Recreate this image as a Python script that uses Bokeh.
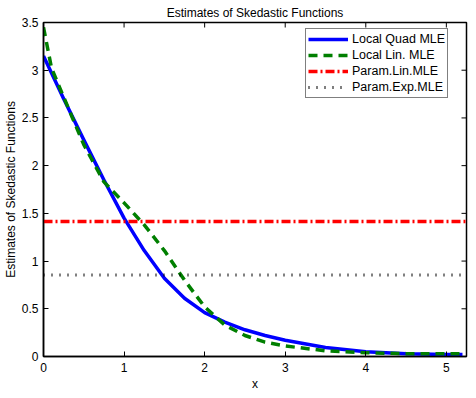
import math
from bokeh.plotting import figure
from bokeh.models import (LinearAxis, FixedTicker, NumeralTickFormatter, Legend,
                          LegendItem, Range1d)
from bokeh.embed import file_html
from bokeh.resources import INLINE

# ---------------- data ----------------
title_text = "Estimates of Skedastic Functions"
x_label = "x"
y_label = "Estimates of Skedastic Functions"

quad_x = [0.0, 0.25, 0.5, 0.75, 1.0, 1.25, 1.5, 1.75, 2.0, 2.25, 2.5, 2.75,
          3.0, 3.5, 4.0, 4.5, 5.0, 5.2]
quad_y = [3.15, 2.70, 2.27, 1.85, 1.45, 1.11, 0.82, 0.61, 0.46, 0.36, 0.28, 0.22,
          0.17, 0.095, 0.05, 0.03, 0.02, 0.02]

lin_x = [0.0, 0.1, 0.25, 0.5, 0.75, 1.0, 1.25, 1.5, 1.75, 2.0, 2.25, 2.5, 2.75,
         3.0, 3.5, 4.0, 4.5, 5.0, 5.2]
lin_y = [3.45, 3.02, 2.72, 2.22, 1.83, 1.61, 1.38, 1.11, 0.80, 0.52, 0.33, 0.22, 0.15,
         0.11, 0.06, 0.04, 0.03, 0.03, 0.03]

param_lin_value = 1.415
param_exp_value = 0.855

x_span = [0.0, 5.25]
y_span = [0.0, 3.5]
x_ticks = [0, 1, 2, 3, 4, 5]
y_ticks = [0, 0.5, 1, 1.5, 2, 2.5, 3, 3.5]

series_names = ["Local Quad MLE", "Local Lin. MLE", "Param.Lin.MLE", "Param.Exp.MLE"]

# ---------------- figure ----------------
FONT = "Liberation Sans"

p = figure(width=476, height=398, output_backend="svg", toolbar_location=None,
           x_range=Range1d(*x_span), y_range=Range1d(*y_span),
           x_axis_type=None, y_axis_type=None,
           min_border_left=43, min_border_right=10, min_border_top=22,
           min_border_bottom=42)
p.background_fill_color = "white"
p.border_fill_color = "white"
p.outline_line_color = "black"
p.outline_line_width = 1.5
p.xgrid.visible = False
p.ygrid.visible = False

p.title.text = title_text
p.title.text_font = FONT
p.title.text_font_size = "12px"
p.title.text_font_style = "normal"
p.title.align = "center"
p.title.text_color = "black"
p.title.standoff = 6


def style_axis(ax, ticks):
    ax.ticker = FixedTicker(ticks=ticks)
    ax.minor_tick_line_color = None
    ax.major_tick_in = 5
    ax.major_tick_out = 0
    ax.major_tick_line_color = "black"
    ax.major_tick_line_width = 1
    ax.axis_line_color = "black"
    ax.axis_line_width = 1.5
    ax.formatter = NumeralTickFormatter(format="0.[0]")
    ax.major_label_text_font = FONT
    ax.major_label_text_font_size = "12px"
    ax.major_label_text_color = "black"
    ax.major_label_standoff = 5
    ax.axis_label_text_font = FONT
    ax.axis_label_text_font_size = "12px"
    ax.axis_label_text_font_style = "normal"
    ax.axis_label_text_color = "black"


xb = LinearAxis(axis_label=x_label)
style_axis(xb, x_ticks)
xb.major_label_standoff = 6
xb.axis_label_standoff = 2
p.add_layout(xb, "below")

yl = LinearAxis(axis_label=y_label)
style_axis(yl, y_ticks)
yl.axis_label_standoff = 1
p.add_layout(yl, "left")

# mirrored inward ticks on the top and right edges
p.scatter(x_ticks, [y_span[1]] * len(x_ticks), marker="dash", angle=math.pi / 2,
          size=10, line_color="black", line_width=1)
p.scatter([x_span[1]] * len(y_ticks), y_ticks, marker="dash", angle=0,
          size=10, line_color="black", line_width=1)

# ---------------- glyphs ----------------
r_quad = p.line(quad_x, quad_y, line_color="#0000ff", line_width=3.5,
                line_join="round")
r_lin = p.line(lin_x, lin_y, line_color="#007f00", line_width=3.5, line_dash="9 6")
r_plin = p.line(x_span, [param_lin_value] * len(x_span), line_color="#ff0000",
                line_width=3.5, line_dash="9 3 2 3")
r_pexp = p.line(x_span, [param_exp_value] * len(x_span), line_color="black",
                line_width=3, line_dash="1 7")

legend = Legend(items=[LegendItem(label=series_names[0], renderers=[r_quad]),
                       LegendItem(label=series_names[1], renderers=[r_lin]),
                       LegendItem(label=series_names[2], renderers=[r_plin]),
                       LegendItem(label=series_names[3], renderers=[r_pexp])],
                location="top_right")
legend.margin = 0
legend.location = (262, 258)
legend.padding = 2
legend.spacing = 0
legend.label_height = 16
legend.glyph_height = 16
legend.glyph_width = 40
legend.label_standoff = 4
legend.label_text_font = FONT
legend.label_text_font_size = "12.5px"
legend.label_text_color = "black"
legend.border_line_color = "black"
legend.border_line_width = 1.5
legend.background_fill_color = "white"
legend.background_fill_alpha = 1.0
p.add_layout(legend, "center")

open("out.html", "w").write(file_html(p, INLINE))
